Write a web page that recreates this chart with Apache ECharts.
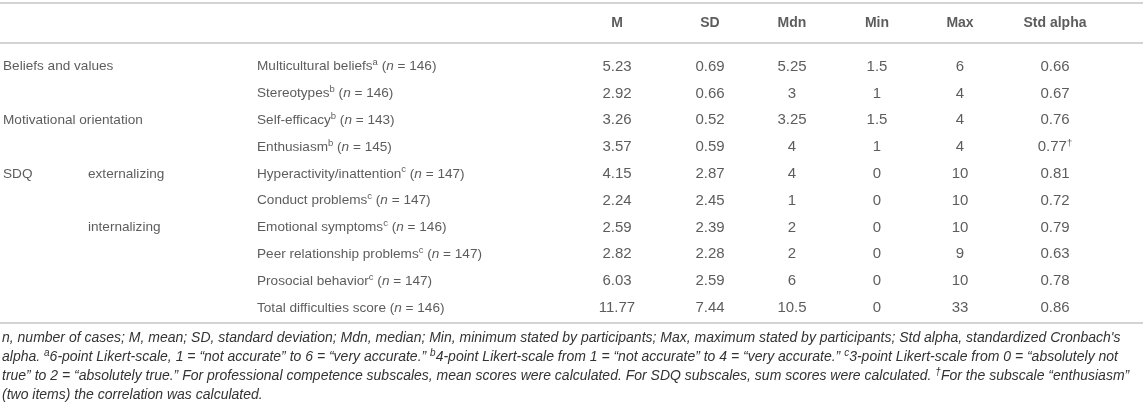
<!DOCTYPE html>
<html lang="en">
  <head>
    <meta charset="UTF-8" />
    <title>Table</title>
    <style>
      html,
      body {
        margin: 0;
        padding: 0;
        background: #fff;
      }
      #main {
        width: 1143px;
        height: 413px;
      }
    </style>
  </head>
  <body>
    <div id="main"></div>
    <script src="https://cdn.jsdelivr.net/npm/echarts@6/dist/echarts.min.js"></script>
    <script>
      // table data
      const headers = ["M", "SD", "Mdn", "Min", "Max", "Std alpha"];
      const rowGroups = ["Beliefs and values", "", "Motivational orientation", "", "SDQ", "", "", "", "", ""];
      const rowSubgroups = ["", "", "", "", "externalizing", "", "internalizing", "", "", ""];
      const scaleNames = [
        "Multicultural beliefs",
        "Stereotypes",
        "Self-efficacy",
        "Enthusiasm",
        "Hyperactivity/inattention",
        "Conduct problems",
        "Emotional symptoms",
        "Peer relationship problems",
        "Prosocial behavior",
        "Total difficulties score",
      ];
      const scaleNotes = ["a", "b", "b", "b", "c", "c", "c", "c", "c", ""];
      const nCases = [146, 146, 143, 145, 147, 147, 146, 147, 147, 146];
      const meanValues = [5.23, 2.92, 3.26, 3.57, 4.15, 2.24, 2.59, 2.82, 6.03, 11.77];
      const sdValues = [0.69, 0.66, 0.52, 0.59, 2.87, 2.45, 2.39, 2.28, 2.59, 7.44];
      const mdnValues = [5.25, 3, 3.25, 4, 4, 1, 2, 2, 6, 10.5];
      const minValues = [1.5, 1, 1.5, 1, 0, 0, 0, 0, 0, 0];
      const maxValues = [6, 4, 4, 4, 10, 10, 10, 9, 10, 33];
      const alphaValues = [0.66, 0.67, 0.76, 0.77, 0.81, 0.72, 0.79, 0.63, 0.78, 0.86];
      const alphaNotes = ["", "", "", "†", "", "", "", "", "", ""];

      const footLines = [
        "{it|n, number of cases; M, mean; SD, standard deviation; Mdn, median; Min, minimum stated by participants; Max, maximum stated by participants; Std alpha, standardized Cronbach's}",
        "{it|alpha. }{sup|a}{it|6-point Likert-scale, 1 = “not accurate” to 6 = “very accurate.” }{sup|b}{it|4-point Likert-scale from 1 = “not accurate” to 4 = “very accurate.” }{sup|c}{it|3-point Likert-scale from 0 = “absolutely not}",
        "{it|true” to 2 = “absolutely true.” For professional competence subscales, mean scores were calculated. For SDQ subscales, sum scores were calculated. }{sup|†}{it|For the subscale “enthusiasm”}",
        "{it|(two items) the correlation was calculated.}",
      ];

      // layout
      const W = 1143;
      const FONT = "'Liberation Sans', Arial, sans-serif";
      const TEXT = "#333";
      const RULE = "#c4c4c4";
      const colX = { group: 3, sub: 88, name: 257, num: [617, 710, 792, 877, 960, 1055] };

      const rich = {
        sup: { fontSize: 9.5, verticalAlign: "top", lineHeight: 11, color: TEXT, fontFamily: FONT },
        it: { fontStyle: "italic", fontSize: 13.6, color: TEXT, fontFamily: FONT },
      };

      const rowKeys = scaleNames.map((_, i) => "r" + i);
      const fmt2 = (v) => v.toFixed(2);

      const textSeries = (name, gridIdx, points, align, size, bold) => ({
        type: "scatter",
        name: name,
        xAxisIndex: gridIdx,
        yAxisIndex: gridIdx,
        symbolSize: 0,
        silent: true,
        data: points,
        label: {
          show: true,
          position: align === "left" ? "right" : "inside",
          distance: 0,
          formatter: (p) => p.data[2],
          color: TEXT,
          fontFamily: FONT,
          fontSize: size,
          fontWeight: bold ? "bold" : "normal",
          lineHeight: 18,
          rich: rich,
        },
        emphasis: { disabled: true },
      });

      const series = [];
      // header row
      series.push(
        textSeries("header", 0, headers.map((h, j) => [colX.num[j], 0, h]), "center", 14, true)
      );
      // text columns
      series.push(
        textSeries("group", 1, rowGroups.map((g, i) => [colX.group, i, g]).filter((d) => d[2]), "left", 13.6)
      );
      series.push(
        textSeries("sub", 1, rowSubgroups.map((g, i) => [colX.sub, i, g]).filter((d) => d[2]), "left", 13.6)
      );
      series.push(
        textSeries(
          "scale",
          1,
          scaleNames.map((s, i) => [
            colX.name,
            i,
            s + (scaleNotes[i] ? "{sup|" + scaleNotes[i] + "}" : "") + " ({it|n} = " + nCases[i] + ")",
          ]),
          "left",
          13.6
        )
      );
      // numeric columns
      const numCols = [
        meanValues.map(fmt2),
        sdValues.map(fmt2),
        mdnValues.map(String),
        minValues.map(String),
        maxValues.map(String),
        alphaValues.map((v, i) => fmt2(v) + (alphaNotes[i] ? "{sup|" + alphaNotes[i] + "}" : "")),
      ];
      numCols.forEach((col, j) => {
        series.push(textSeries(headers[j], 1, col.map((v, i) => [colX.num[j], i, v]), "center", 15));
      });

      const hiddenX = (g) => ({ type: "value", gridIndex: g, min: 0, max: W, show: false });
      const hiddenY = (g, data) => ({ type: "category", gridIndex: g, data: data, inverse: true, show: false });

      const rule = (y) => ({
        type: "line",
        shape: { x1: 0, y1: y, x2: W, y2: y },
        style: { stroke: RULE, lineWidth: 1.6 },
        silent: true,
      });

      const chart = echarts.init(document.getElementById("main"));
      chart.setOption({
        animation: false,
        grid: [
          { left: 0, right: 0, top: 1, height: 44 },
          { left: 0, right: 0, top: 53.2, height: 268 },
        ],
        xAxis: [hiddenX(0), hiddenX(1)],
        yAxis: [hiddenY(0, ["header"]), hiddenY(1, rowKeys)],
        series: series,
        graphic: [
          rule(3),
          rule(43),
          rule(323),
          {
            type: "text",
            left: 2,
            top: 329,
            silent: true,
            style: {
              text: footLines.join("\n"),
              fontFamily: FONT,
              fontSize: 14,
              lineHeight: 19,
              fill: TEXT,
              rich: {
                it: { fontStyle: "italic", fontSize: 14, lineHeight: 19, fill: TEXT, fontFamily: FONT },
                sup: { fontStyle: "italic", fontSize: 10, lineHeight: 12, verticalAlign: "top", fill: TEXT, fontFamily: FONT },
              },
            },
          },
        ],
      });
    </script>
  </body>
</html>
